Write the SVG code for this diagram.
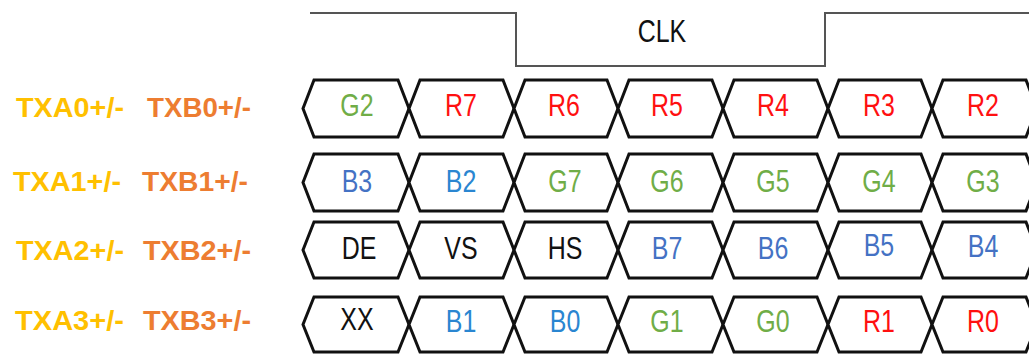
<svg xmlns="http://www.w3.org/2000/svg" width="1029" height="354" viewBox="0 0 1029 354">
<style>
.cell{fill:#fff;stroke:#111;stroke-width:3;stroke-linejoin:miter}
.t{font-family:"Liberation Sans",Arial,sans-serif;font-size:32px;text-anchor:middle;transform:scaleX(0.78);transform-box:fill-box;transform-origin:center}
.lab{font-family:"Liberation Sans",Arial,sans-serif;font-size:28px;font-weight:bold}
.ya{fill:#FFC000}.ob{fill:#ED7D31}
.g{fill:#70AD47}.r{fill:#FF1010}.b{fill:#4472C4}.bl{fill:#2A86D1}.k{fill:#111}
.wave{fill:none;stroke:#555;stroke-width:2}
</style>
<g id="clk-signal">
<polyline class="wave" points="310,13 516,13 516,66 825,66 825,13 1029,13"/>
<text class="t k" x="662" y="42">CLK</text>
</g>
<g id="labels">
<text class="lab ya" x="16" y="117" textLength="108" lengthAdjust="spacingAndGlyphs">TXA0+/-</text>
<text class="lab ob" x="147" y="117" textLength="104" lengthAdjust="spacingAndGlyphs">TXB0+/-</text>
<text class="lab ya" x="13" y="191" textLength="108" lengthAdjust="spacingAndGlyphs">TXA1+/-</text>
<text class="lab ob" x="142" y="191" textLength="106" lengthAdjust="spacingAndGlyphs">TXB1+/-</text>
<text class="lab ya" x="16" y="260" textLength="108" lengthAdjust="spacingAndGlyphs">TXA2+/-</text>
<text class="lab ob" x="143" y="260" textLength="108" lengthAdjust="spacingAndGlyphs">TXB2+/-</text>
<text class="lab ya" x="15" y="330" textLength="109" lengthAdjust="spacingAndGlyphs">TXA3+/-</text>
<text class="lab ob" x="143" y="330" textLength="108" lengthAdjust="spacingAndGlyphs">TXB3+/-</text>
</g>
<g id="connectors"/>
<!-- Row 1 -->
<g id="r1c1"><polygon class="cell" points="303,108.5 314,80 398,80 409,108.5 398,137 314,137"/><text class="t g" x="357" y="116">G2</text></g>
<g id="r1c2"><polygon class="cell" points="409,108.5 420,80 503,80 514,108.5 503,137 420,137"/><text class="t r" x="461" y="116">R7</text></g>
<g id="r1c3"><polygon class="cell" points="514,108.5 525,80 607,80 618,108.5 607,137 525,137"/><text class="t r" x="564" y="116">R6</text></g>
<g id="r1c4"><polygon class="cell" points="618,108.5 629,80 712,80 723,108.5 712,137 629,137"/><text class="t r" x="667" y="116">R5</text></g>
<g id="r1c5"><polygon class="cell" points="723,108.5 734,80 817,80 828,108.5 817,137 734,137"/><text class="t r" x="773" y="116">R4</text></g>
<g id="r1c6"><polygon class="cell" points="828,108.5 839,80 921,80 932,108.5 921,137 839,137"/><text class="t r" x="879" y="116">R3</text></g>
<g id="r1c7"><polygon class="cell" points="932,108.5 943,80 1026,80 1037,108.5 1026,137 943,137"/><text class="t r" x="983" y="116">R2</text></g>
<!-- Row 2 -->
<g id="r2c1"><polygon class="cell" points="303,182.5 314,154 398,154 409,182.5 398,211 314,211"/><text class="t b" x="357" y="192">B3</text></g>
<g id="r2c2"><polygon class="cell" points="409,182.5 420,154 503,154 514,182.5 503,211 420,211"/><text class="t bl" x="461" y="192">B2</text></g>
<g id="r2c3"><polygon class="cell" points="514,182.5 525,154 607,154 618,182.5 607,211 525,211"/><text class="t g" x="565" y="192">G7</text></g>
<g id="r2c4"><polygon class="cell" points="618,182.5 629,154 712,154 723,182.5 712,211 629,211"/><text class="t g" x="667" y="192">G6</text></g>
<g id="r2c5"><polygon class="cell" points="723,182.5 734,154 817,154 828,182.5 817,211 734,211"/><text class="t g" x="773" y="192">G5</text></g>
<g id="r2c6"><polygon class="cell" points="828,182.5 839,154 921,154 932,182.5 921,211 839,211"/><text class="t g" x="879" y="192">G4</text></g>
<g id="r2c7"><polygon class="cell" points="932,182.5 943,154 1026,154 1037,182.5 1026,211 943,211"/><text class="t g" x="983" y="192">G3</text></g>
<!-- Row 3 -->
<g id="r3c1"><polygon class="cell" points="303,250 314,222 398,222 409,250 398,278 314,278"/><text class="t k" x="359" y="259">DE</text></g>
<g id="r3c2"><polygon class="cell" points="409,250 420,222 503,222 514,250 503,278 420,278"/><text class="t k" x="461" y="259">VS</text></g>
<g id="r3c3"><polygon class="cell" points="514,250 525,222 607,222 618,250 607,278 525,278"/><text class="t k" x="565" y="259">HS</text></g>
<g id="r3c4"><polygon class="cell" points="618,250 629,222 712,222 723,250 712,278 629,278"/><text class="t b" x="667" y="259">B7</text></g>
<g id="r3c5"><polygon class="cell" points="723,250 734,222 817,222 828,250 817,278 734,278"/><text class="t b" x="773" y="259">B6</text></g>
<g id="r3c6"><polygon class="cell" points="828,250 839,222 921,222 932,250 921,278 839,278"/><text class="t b" x="879" y="256">B5</text></g>
<g id="r3c7"><polygon class="cell" points="932,250 943,222 1026,222 1037,250 1026,278 943,278"/><text class="t b" x="983" y="257">B4</text></g>
<!-- Row 4 -->
<g id="r4c1"><polygon class="cell" points="303,324.5 314,297 398,297 409,324.5 398,352 314,352"/><text class="t k" x="357" y="330">XX</text></g>
<g id="r4c2"><polygon class="cell" points="409,324.5 420,297 503,297 514,324.5 503,352 420,352"/><text class="t bl" x="461" y="332">B1</text></g>
<g id="r4c3"><polygon class="cell" points="514,324.5 525,297 607,297 618,324.5 607,352 525,352"/><text class="t bl" x="565" y="332">B0</text></g>
<g id="r4c4"><polygon class="cell" points="618,324.5 629,297 712,297 723,324.5 712,352 629,352"/><text class="t g" x="667" y="332">G1</text></g>
<g id="r4c5"><polygon class="cell" points="723,324.5 734,297 817,297 828,324.5 817,352 734,352"/><text class="t g" x="773" y="332">G0</text></g>
<g id="r4c6"><polygon class="cell" points="828,324.5 839,297 921,297 932,324.5 921,352 839,352"/><text class="t r" x="879" y="332">R1</text></g>
<g id="r4c7"><polygon class="cell" points="932,324.5 943,297 1026,297 1037,324.5 1026,352 943,352"/><text class="t r" x="983" y="332">R0</text></g>
</svg>
